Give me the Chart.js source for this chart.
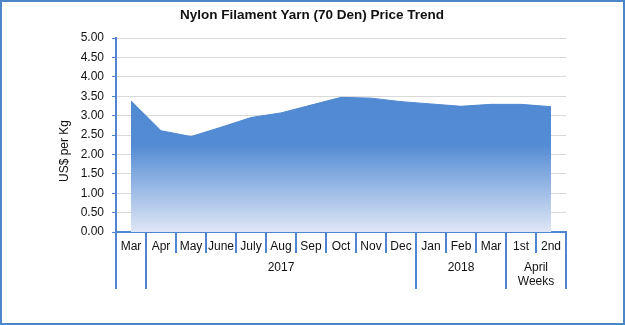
<!DOCTYPE html>
<html>
<head>
<meta charset="utf-8">
<title>Nylon Filament Yarn Price Trend</title>
<script src="https://cdn.jsdelivr.net/npm/chart.js@4.4.0/dist/chart.umd.min.js"></script>
<style>
    html, body { margin: 0; padding: 0; background: #fff; }
    #wrap { width: 625px; height: 325px; }
</style>
</head>
<body>
<div id="wrap"><canvas id="precoChart" width="625" height="325"></canvas></div>
<script>
// Dados do gráfico
const meses = ['Mar', 'Apr', 'May', 'June', 'July', 'Aug', 'Sep', 'Oct', 'Nov', 'Dec', 'Jan', 'Feb', 'Mar', '1st', '2nd'];
const precos = [3.38, 2.61, 2.46, 2.70, 2.95, 3.07, 3.27, 3.47, 3.45, 3.36, 3.30, 3.24, 3.29, 3.29, 3.23];
const grupos = ['', '2017', '2018', ['April', 'Weeks']];
const tamanhoGrupos = [1, 9, 3, 2];
const eixoY = { min: 0, max: 5, passo: 0.5 };

const titulo = 'Nylon Filament Yarn (70 Den) Price Trend';
const tituloY = 'US$ per Kg';

const azulEixo = '#4f84d1';
const fonte = '"Liberation Sans", Arial, sans-serif';

// Moldura e textos extras (título, eixo Y, eixo X em dois níveis)
const extras = {
    id: 'extras',
    beforeDraw(chart) {
        const ctx = chart.ctx;
        ctx.save();
        ctx.fillStyle = '#fff';
        ctx.fillRect(0, 0, chart.width, chart.height);
        ctx.restore();
    },
    afterDraw(chart) {
        const ctx = chart.ctx;
        const xs = chart.scales.x;
        const base = chart.chartArea.bottom;
        ctx.save();

        // título
        ctx.fillStyle = '#111';
        ctx.font = 'bold 13.5px ' + fonte;
        ctx.textAlign = 'center';
        ctx.textBaseline = 'middle';
        ctx.fillText(titulo, 312, 15);

        // título do eixo Y
        ctx.save();
        ctx.translate(65, 151);
        ctx.rotate(-Math.PI / 2);
        ctx.font = '12px ' + fonte;
        ctx.fillText(tituloY, 0, 0);
        ctx.restore();

        // limites entre categorias
        const bordas = [xs.left];
        for (let i = 0; i < meses.length - 1; i++) {
            bordas.push((xs.getPixelForValue(i) + xs.getPixelForValue(i + 1)) / 2);
        }
        bordas.push(xs.right);

        const longas = [0];
        let soma = 0;
        tamanhoGrupos.forEach(n => { soma += n; longas.push(soma); });

        ctx.strokeStyle = azulEixo;
        ctx.lineWidth = 2;
        bordas.forEach((x, i) => {
            const fim = longas.includes(i) ? base + 57 : base + 21;
            ctx.beginPath();
            ctx.moveTo(x, base);
            ctx.lineTo(x, fim);
            ctx.stroke();
        });

        // rótulos das categorias
        ctx.fillStyle = '#111';
        ctx.font = '12px ' + fonte;
        meses.forEach((m, i) => {
            ctx.fillText(m, xs.getPixelForValue(i), base + 15);
        });

        // rótulos dos grupos
        let ini = 0;
        grupos.forEach((g, k) => {
            const fim = ini + tamanhoGrupos[k] - 1;
            const cx = (xs.getPixelForValue(ini) + xs.getPixelForValue(fim)) / 2;
            const linhas = Array.isArray(g) ? g : [g];
            linhas.forEach((txt, j) => {
                ctx.fillText(txt, cx, base + 36 + j * 14);
            });
            ini = fim + 1;
        });

        // moldura
        ctx.strokeStyle = '#4a86c8';
        ctx.lineWidth = 2;
        ctx.strokeRect(1, 1, chart.width - 2, chart.height - 2);
        ctx.restore();
    }
};

const ctx = document.getElementById('precoChart').getContext('2d');
new Chart(ctx, {
    type: 'line',
    data: {
        labels: meses,
        datasets: [{
            data: precos,
            fill: 'origin',
            tension: 0,
            pointRadius: 0,
            borderWidth: 1,
            borderColor: '#5088d2',
            backgroundColor: function(c) {
                const area = c.chart.chartArea;
                if (!area) return '#5088d2';
                const g = c.chart.ctx.createLinearGradient(0, area.top, 0, area.bottom);
                g.addColorStop(0, '#4f87d2');
                g.addColorStop(0.55, '#538bd4');
                g.addColorStop(1, '#dfe7f6');
                return g;
            }
        }]
    },
    options: {
        responsive: false,
        animation: false,
        layout: { padding: { top: 38, right: 59, left: 0, bottom: 0 } },
        plugins: {
            legend: { display: false },
            tooltip: { enabled: false }
        },
        scales: {
            x: {
                offset: true,
                ticks: { display: false },
                grid: { display: false },
                border: { color: azulEixo, width: 2 },
                afterFit(s) { s.height = 93; }
            },
            y: {
                min: eixoY.min,
                max: eixoY.max,
                ticks: {
                    stepSize: eixoY.passo,
                    padding: 8,
                    color: '#111',
                    font: { family: fonte, size: 12 },
                    callback: v => Number(v).toFixed(2)
                },
                grid: { color: '#d9d9d9', tickColor: azulEixo, tickLength: 4 },
                border: { color: azulEixo, width: 2 },
                afterFit(s) { s.width = 116; }
            }
        }
    },
    plugins: [extras]
});
</script>
</body>
</html>
